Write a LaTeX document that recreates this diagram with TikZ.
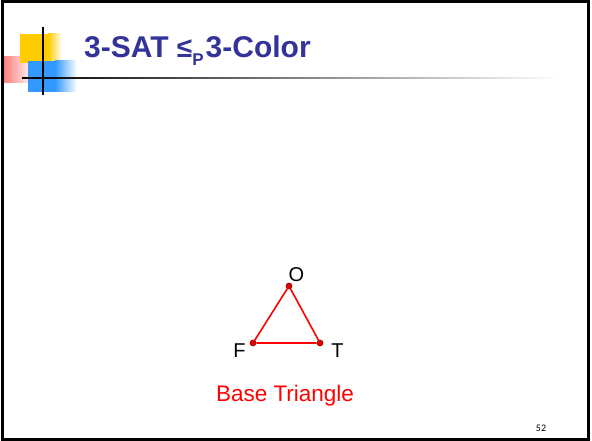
\documentclass[tikz,border=0pt]{standalone}
\usepackage{fontspec}
\setmainfont{Liberation Sans}
\newfontfamily\pagenumfont{Carlito}
\usepackage{tikz}
\usetikzlibrary{positioning}
\definecolor{ktitle}{HTML}{333399}
\definecolor{kyellow}{HTML}{FFCC00}
\definecolor{kblue}{HTML}{3399FF}
\definecolor{kpink}{HTML}{FF8080}
\definecolor{kred}{HTML}{FF0000}
\definecolor{kdot}{HTML}{E00000}
\tikzset{
  vertex/.style={circle, fill=kdot, draw=kred!60!black, line width=0.6pt,
                 minimum size=6pt, inner sep=0},
  vlabel/.style={font=\fontsize{20}{20}\selectfont, text=black, inner sep=0},
  edge/.style={draw=kred, line width=1.6pt},
}

\begin{document}
\begin{tikzpicture}[x=1pt, y=1pt]

  \useasboundingbox (0,0) rectangle (592,441);
  \fill[white] (0,0) rectangle (592,441);

  % slide logo
  \shade[left color=kpink, right color=white] (4,441-57) rectangle (34,441-83);
  \fill[kyellow] (20,441-34) rectangle (48,441-63);
  \shade[left color=kyellow, right color=white] (48,441-34) rectangle (62,441-63);
  \fill[kblue] (28,441-61) rectangle (55,441-92);
  \shade[left color=kblue, right color=white] (55,441-61) rectangle (77,441-92);
  \shade[left color=black, right color=white] (22,441-77.3) rectangle (560,441-79);
  \fill[black] (42.2,441-27) rectangle (43.8,441-95);

  \node[font=\fontsize{30}{30}\selectfont\bfseries, text=ktitle, anchor=base west, inner sep=0] (title)
    at (84,441-58) {3-SAT {\fontsize{28}{28}\selectfont ≤}\raisebox{-0.25em}{\fontsize{17}{17}\selectfont P}\hspace{2pt}3-Color};

  % base triangle
  \node[vertex] (o) at (289,441-286) {};
  \node[vertex] (f) at (253,441-343) {};
  \node[vertex] (t) at (320,441-343) {};
  \draw[edge] (o) -- (t) -- (f) -- (o);

  \node[vlabel, anchor=base] (ol) at (296.5,441-282) {O};
  \node[vlabel, anchor=base] (fl) at (239.5,441-358) {F};
  \node[vlabel, anchor=base] (tl) at (337.5,441-358) {T};

  \node[font=\fontsize{22.5}{22.5}\selectfont, text=kred, anchor=base] (caption)
    at (285,441-402) {Base Triangle};

  \node[font=\pagenumfont\fontsize{10}{10}\selectfont, anchor=base] (pagenum)
    at (541,441-432) {52};

  \draw[black, line width=2.2pt] (2.5,441-1.5) rectangle (588.5,441-439.5);

\end{tikzpicture}
\end{document}
